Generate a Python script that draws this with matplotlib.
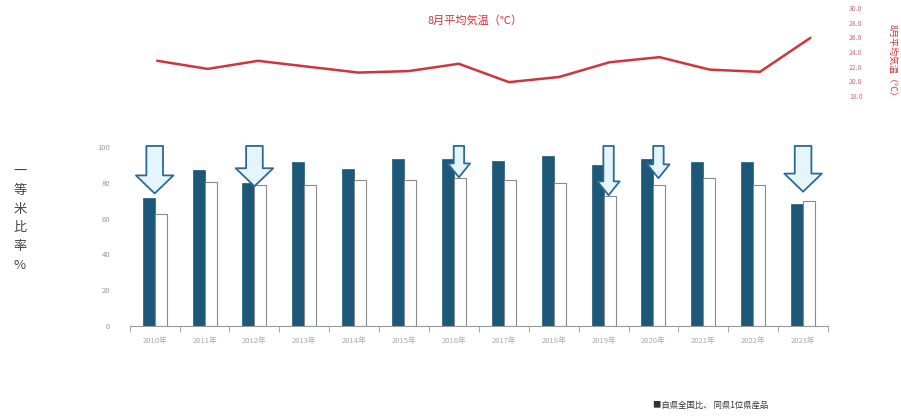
import matplotlib
matplotlib.use('Agg')
import matplotlib.pyplot as plt
import numpy as np

plt.rcParams['font.family'] = ['Noto Sans CJK JP', 'DejaVu Sans']

# data
years = ['2010年', '2011年', '2012年', '2013年', '2014年', '2015年', '2016年',
         '2017年', '2018年', '2019年', '2020年', '2021年', '2022年', '2023年']
ratio_dark = [71.5, 87, 80, 91.5, 87.5, 93, 93, 92, 95, 90, 93, 91.5, 91.5, 68]
ratio_white = [62.5, 80.5, 79, 79, 81.5, 81.5, 82.5, 81.5, 80, 72.5, 79, 82.5, 79, 70]
temp_aug = [22.8, 21.7, 22.8, 22.0, 21.2, 21.4, 22.4, 19.9, 20.6, 22.6, 23.3, 21.6, 21.3, 25.9]
arrow_years = [0, 2, 6, 9, 10, 13]
arrow_tips = [74, 78, 83, 73, 82.5, 75]
arrow_wide = [True, True, False, False, False, True]

red = '#d0343c'
dark = '#1d5878'
x = np.arange(len(years))

fig = plt.figure(figsize=(9.01, 4.16), dpi=100)

# temperature line
ax_t = fig.add_axes([0.147, 0.769, 0.78, 0.212])
ax_t.plot(x, temp_aug, color=red, lw=1.8)
ax_t.set_xlim(-0.5, 13.5)
ax_t.set_ylim(18, 30)
ax_t.set_yticks(np.arange(18, 31, 2))
ax_t.set_yticklabels([f'{v:.1f}' for v in np.arange(18, 31, 2)], fontsize=5, color='#c9707a')
ax_t.yaxis.tick_right()
ax_t.tick_params(axis='y', length=0, pad=10)
ax_t.set_xticks([])
for s in ax_t.spines.values():
    s.set_visible(False)
fig.text(0.527, 0.951, '8月平均気温（℃）', color=red, fontsize=8, ha='center', va='center')
fig.text(0.99, 0.85, '8月平均気温（℃）', color=red, fontsize=6.5, rotation=-90,
         ha='center', va='center')

# bars
ax = fig.add_axes([0.144, 0.216, 0.775, 0.431])
w = 0.24
ax.bar(x - w / 2, ratio_dark, width=w, color=dark, edgecolor=dark, lw=0.5)
ax.bar(x + w / 2, ratio_white, width=w, color='white', edgecolor='#8a8a8a', lw=0.8)
ax.set_xlim(-0.5, 13.5)
ax.set_ylim(0, 100)
ax.set_yticks([0, 20, 40, 60, 80, 100])
ax.set_yticklabels(['0', '20', '40', '60', '80', '100'], fontsize=5.5, color='#999999')
ax.set_xticks(x)
ax.set_xticklabels(years, fontsize=5.5, color='#aaaaaa')
ax.set_xticks(np.arange(-0.5, 14, 1), minor=True)
ax.tick_params(axis='x', which='major', length=0, pad=8)
ax.tick_params(axis='x', which='minor', length=4, color='#999999')
ax.tick_params(axis='y', length=0, pad=14)
for s in ['top', 'right', 'left']:
    ax.spines[s].set_visible(False)
ax.spines['bottom'].set_color('#999999')

# arrows pointing down onto the bars
for i, tip, wide in zip(arrow_years, arrow_tips, arrow_wide):
    if wide:
        style = 'simple,head_width=2.7,head_length=1.3,tail_width=1.2'
        xa = i
    else:
        style = 'simple,head_width=1.6,head_length=1.0,tail_width=0.75'
        xa = i + 0.1
    ax.annotate('', xy=(xa, tip), xytext=(xa, 100.5),
                arrowprops=dict(arrowstyle=style, fc='#e4f5fc', ec='#2c6a94', lw=1.3,
                                mutation_scale=10, shrinkA=0, shrinkB=0),
                annotation_clip=False)

label = '一等米比率%'
for k, ch in enumerate(label):
    fig.text(0.022, 0.587 - k * 0.045, ch, fontsize=9.5, color='#444444',
             ha='center', va='center')
fig.text(0.725, 0.025, '■自県全国比、 同県1位県産品', fontsize=6, color='#333333',
         ha='left', va='center')

fig.savefig('out.png', dpi=100)
